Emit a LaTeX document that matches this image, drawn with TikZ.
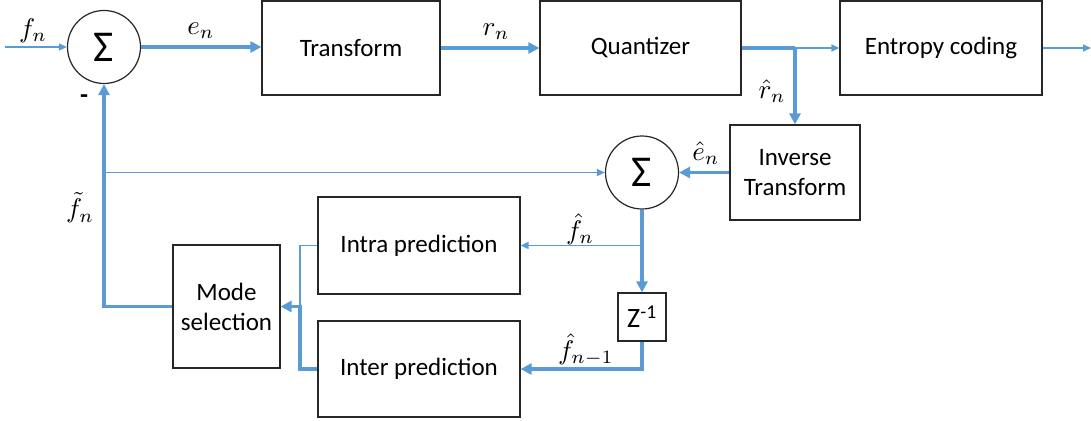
\documentclass[tikz,border=0pt]{standalone}
\usepackage{fontspec}
\setmainfont{Carlito}
\usetikzlibrary{arrows.meta}
\definecolor{lineblue}{RGB}{91,155,213}
\newcommand{\mlbl}[1]{\scalebox{2.7}{$#1$}}
\begin{document}
\begin{tikzpicture}[x=1pt,y=-1pt,
  box/.style={draw=black!85,line width=1.2pt,fill=white,font=\fontsize{25}{30}\selectfont,align=center,inner sep=0pt},
  sumnode/.style={draw=black!85,line width=1.2pt,circle,inner sep=0pt,minimum size=73pt,font=\fontsize{44}{44}\selectfont},
  thickln/.style={draw=lineblue,line width=3.6pt,-{Triangle[length=11pt,width=11pt]}},
  thickplain/.style={draw=lineblue,line width=3.6pt},
  thinln/.style={draw=lineblue,line width=1.6pt,-{Triangle[length=8pt,width=7pt]}},
  thinplain/.style={draw=lineblue,line width=1.6pt},
  lbl/.style={inner sep=0pt}]
\useasboundingbox (0,0) rectangle (1091,420);
% nodes
\node[sumnode] (sum1) at (104,47) {Σ};
\node[box,minimum width=178pt,minimum height=94pt] (trans) at (351,48) {Transform};
\node[box,minimum width=201pt,minimum height=94pt] (quant) at (640.5,48) {Quantizer};
\node[box,minimum width=202pt,minimum height=94pt] (ent) at (941,48) {Entropy coding};
\node[box,minimum width=130pt,minimum height=95pt] (inv) at (795,172.5) {Inverse\\Transform};
\node[sumnode] (sum2) at (642,172.5) {Σ};
\node[box,minimum width=107pt,minimum height=123pt] (mode) at (226.5,306.5) {Mode\\selection};
\node[box,minimum width=202pt,minimum height=97pt] (intra) at (419,245.5) {Intra prediction};
\node[box,minimum width=202pt,minimum height=96pt] (inter) at (419,369) {Inter prediction};
\node[box,minimum width=48pt,minimum height=48pt,font=\fontsize{28}{30}\selectfont] (z) at (642,317) {Z\textsuperscript{-1}};
% coordinates
\coordinate (in) at (5,47);
\coordinate (out) at (1091,48);
\coordinate (j1) at (795,48);
\coordinate (j2) at (642,245.5);
\coordinate (j3) at (300,306.5);
\coordinate (fb) at (104,172.5);
% connectors
\draw[thinln] (in) -- (sum1.west);
\draw[thickln] (sum1.east) -- (trans.west |- sum1.east);
\draw[thickln] (trans.east) -- (quant.west);
\draw[thickplain] (quant.east) -- (j1);
\draw[thinln] (j1) -- (ent.west);
\draw[thinln] (ent.east) -- (out);
\draw[thickln] (j1) -- (inv.north);
\draw[thickln] (inv.west) -- (sum2.east);
\draw[thinln] (fb) -- (sum2.west);
\draw[thickln] (sum2.south) -- (z.north);
\draw[thinln] (j2) -- (intra.east);
\draw[thickln] (z.south) |- (inter.east);
\draw[thinplain] (intra.west) -| (j3);
\draw[thickln] (inter.west) -| (j3) -- (mode.east);
\draw[thickln] (mode.west) -| (sum1.south);
% labels
\node[lbl] (lfn) at (33,31) {\mlbl{f_n}};
\node[lbl] (len) at (201,31) {\mlbl{e_n}};
\node[lbl] (lrn) at (496,32) {\mlbl{r_n}};
\node[lbl] (lrh) at (772,91) {\mlbl{\hat{r}_n}};
\node[lbl] (leh) at (706,153) {\mlbl{\hat{e}_n}};
\node[lbl] (lfh) at (580,229) {\mlbl{\hat{f}_n}};
\node[lbl] (lfh1) at (586,350) {\mlbl{\hat{f}_{n-1}}};
\node[lbl] (lft) at (80,208) {\mlbl{\tilde{f}_n}};
\node[font=\fontsize{26}{26}\selectfont\bfseries,inner sep=0pt] (minus) at (84,99) {-};
\end{tikzpicture}
\end{document}
